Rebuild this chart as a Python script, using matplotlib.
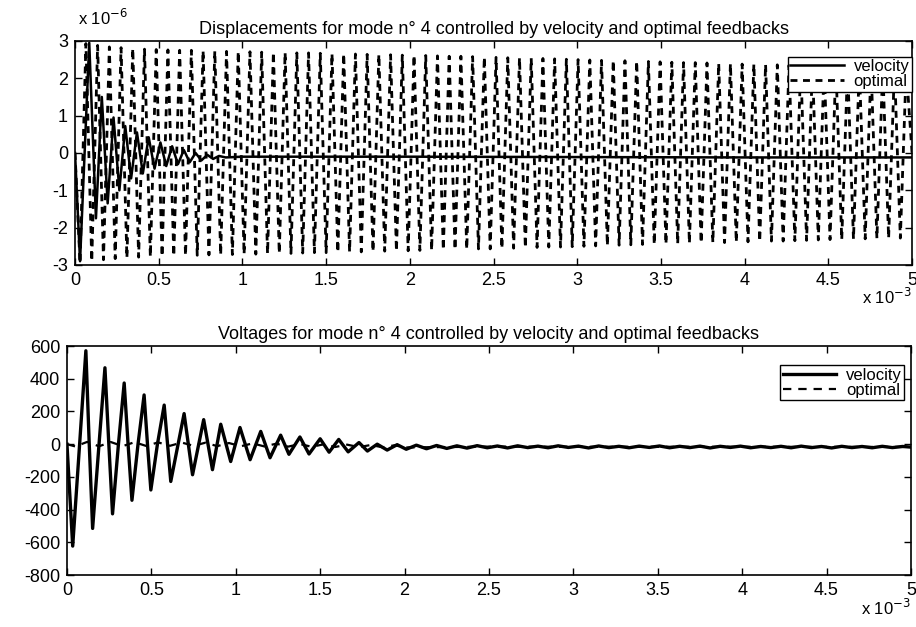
import matplotlib
matplotlib.use("Agg")
import matplotlib.pyplot as plt

plt.rcParams['font.family'] = ['Liberation Sans', 'DejaVu Sans']
plt.rcParams['lines.scale_dashes'] = False
plt.rcParams['axes.unicode_minus'] = False

# time axis in ms (shown as x 10^-3 s)
xticks = [0, 0.5, 1, 1.5, 2, 2.5, 3, 3.5, 4, 4.5, 5]
xtick_labels = ['0', '0.5', '1', '1.5', '2', '2.5', '3', '3.5', '4', '4.5', '5']

# displacement, optimal feedback (extrema, x 10^-6)
opt_t = [0.0,
         0.030, 0.065, 0.100, 0.135, 0.170, 0.205, 0.240, 0.275, 0.310, 0.345,
         0.380, 0.415, 0.450, 0.485, 0.520, 0.555, 0.590, 0.625, 0.660, 0.695,
         0.730, 0.765, 0.800, 0.835, 0.870, 0.905, 0.940, 0.975, 1.010, 1.045,
         1.080, 1.115, 1.150, 1.185, 1.220, 1.255, 1.290, 1.325, 1.360, 1.395,
         1.430, 1.465, 1.500, 1.535, 1.570, 1.605, 1.640, 1.675, 1.710, 1.745,
         1.780, 1.815, 1.850, 1.885, 1.920, 1.955, 1.990, 2.025, 2.060, 2.095,
         2.130, 2.165, 2.200, 2.235, 2.270, 2.305, 2.340, 2.375, 2.410, 2.445,
         2.480, 2.515, 2.550, 2.585, 2.620, 2.655, 2.690, 2.725, 2.760, 2.795,
         2.830, 2.865, 2.900, 2.935, 2.970, 3.005, 3.040, 3.075, 3.110, 3.145,
         3.180, 3.215, 3.250, 3.285, 3.320, 3.355, 3.390, 3.425, 3.460, 3.495,
         3.530, 3.565, 3.600, 3.635, 3.670, 3.705, 3.740, 3.775, 3.810, 3.845,
         3.880, 3.915, 3.950, 3.985, 4.020, 4.055, 4.090, 4.125, 4.160, 4.195,
         4.230, 4.265, 4.300, 4.335, 4.370, 4.405, 4.440, 4.475, 4.510, 4.545,
         4.580, 4.615, 4.650, 4.685, 4.720, 4.755, 4.790, 4.825, 4.860, 4.895,
         4.930, 4.965,
         5.000]
opt_disp = [0.0,
            -2.95, 2.93, -2.90, 2.88, -2.86, 2.84, -2.83, 2.82, -2.81, 2.80,
            -2.79, 2.78, -2.78, 2.77, -2.77, 2.76, -2.76, 2.75, -2.75, 2.75,
            -2.74, 2.74, -2.73, 2.73, -2.73, 2.72, -2.72, 2.72, -2.71, 2.71,
            -2.71, 2.70, -2.70, 2.70, -2.69, 2.69, -2.69, 2.68, -2.68, 2.68,
            -2.67, 2.67, -2.67, 2.66, -2.66, 2.66, -2.65, 2.65, -2.65, 2.64,
            -2.64, 2.64, -2.63, 2.63, -2.63, 2.62, -2.62, 2.62, -2.61, 2.61,
            -2.61, 2.60, -2.60, 2.59, -2.59, 2.59, -2.58, 2.58, -2.57, 2.57,
            -2.57, 2.56, -2.56, 2.55, -2.55, 2.55, -2.54, 2.54, -2.53, 2.53,
            -2.52, 2.52, -2.52, 2.51, -2.51, 2.50, -2.50, 2.49, -2.49, 2.48,
            -2.48, 2.48, -2.47, 2.47, -2.46, 2.46, -2.45, 2.45, -2.45, 2.44,
            -2.44, 2.43, -2.43, 2.42, -2.42, 2.42, -2.41, 2.41, -2.40, 2.40,
            -2.40, 2.39, -2.39, 2.38, -2.38, 2.38, -2.37, 2.37, -2.36, 2.36,
            -2.36, 2.35, -2.35, 2.34, -2.34, 2.34, -2.33, 2.33, -2.32, 2.32,
            -2.32, 2.31, -2.31, 2.30, -2.30, 2.30, -2.29, 2.29, -2.28, 2.28,
            -2.28, 2.27,
            0.0]

# displacement, velocity feedback (extrema, x 10^-6)
vel_disp_t = [0.0, 0.030, 0.085, 0.125, 0.160, 0.195, 0.230, 0.265, 0.300, 0.335,
              0.370, 0.405, 0.440, 0.475, 0.510, 0.545, 0.580, 0.615, 0.650, 0.685,
              0.720, 0.755, 0.790, 0.825, 0.860, 0.900, 1.0, 2.0, 3.0, 4.0, 5.0]
vel_disp = [0.0, -2.90, 2.95, -1.75, 1.50, -1.35, 0.95, -1.00, 0.72, -0.68,
            0.55, -0.55, 0.42, -0.42, 0.28, -0.35, 0.18, -0.30, 0.08, -0.25,
            0.00, -0.20, -0.05, -0.16, -0.08, -0.12, -0.10, -0.10, -0.11, -0.12, -0.12]

# voltage, velocity feedback (extrema and zero crossings, V)
vel_v_t = [0.0, 0.034, 0.075, 0.112, 0.132, 0.152, 0.190, 0.225, 0.248, 0.270,
           0.305, 0.339, 0.362, 0.385, 0.421, 0.457, 0.477, 0.497, 0.536, 0.576,
           0.615, 0.694, 0.744, 0.810, 0.862, 0.911, 0.970, 1.025, 1.085,
           1.148, 1.203, 1.266, 1.315, 1.380, 1.434, 1.500, 1.553, 1.610, 1.666,
           1.730, 1.780, 1.838, 1.897, 1.956, 2.010,
           2.07, 2.13, 2.19, 2.25, 2.31, 2.37, 2.43, 2.49, 2.55, 2.61,
           2.67, 2.73, 2.79, 2.85, 2.91, 2.97, 3.03, 3.09, 3.15, 3.21,
           3.27, 3.33, 3.39, 3.45, 3.51, 3.57, 3.63, 3.69, 3.75, 3.81,
           3.87, 3.93, 3.99, 4.05, 4.11, 4.17, 4.23, 4.29, 4.35, 4.41,
           4.47, 4.53, 4.59, 4.65, 4.71, 4.77, 4.83, 4.89, 4.95, 5.00]
vel_v = [0, -623, 0, 571, 0, -515, 0, 467, 0, -426,
         0, 374, 0, -343, 0, 301, 0, -280, 0, 239,
         -228, 187, -187, 150, -156, 122, -106, 102, -95,
         78, -83, 55, -62, 44, -60, 33, -49, 29, -47,
         10, -42, 0, -36, -3, -31,
         -6, -28, -8, -26, -10, -24, -9, -22, -11, -23,
         -10, -21, -12, -22, -10, -20, -12, -23, -11, -21,
         -13, -22, -12, -20, -11, -22, -13, -21, -12, -23,
         -13, -20, -12, -22, -14, -21, -13, -22, -12, -21,
         -14, -23, -13, -21, -14, -22, -13, -21, -14, -18]

# voltage, optimal feedback (extrema, V)
opt_v_t = [0.0, 0.05, 0.12, 0.19, 0.26, 0.33, 0.40, 0.47, 0.54, 0.61,
           0.68, 0.75, 0.82, 0.89, 0.96, 1.03, 1.10, 1.17, 1.24, 1.31,
           1.38, 1.45, 1.52, 1.59, 1.66, 1.73, 1.80, 1.87, 1.94, 2.01,
           2.5, 3.0, 4.0, 5.0]
opt_v = [0, -14, 14, -13, 13, -12, 12, -11, 11, -10,
         10, -10, 9, -12, 7, -13, 5, -14, 3, -15,
         1, -16, -1, -17, -3, -18, -5, -19, -7, -20,
         -15, -16, -16, -17]

fig = plt.figure(figsize=(9.16, 6.27), dpi=100)
ax1 = fig.add_axes([0.0819, 0.5774, 0.9138, 0.3573])
ax2 = fig.add_axes([0.0731, 0.0829, 0.9214, 0.3652])

leg_kw = dict(loc='upper right', fontsize=12, fancybox=False, edgecolor='black',
              framealpha=1, borderpad=0.15, labelspacing=0.0, handlelength=3.2,
              handletextpad=0.6, borderaxespad=0.0)

ax1.plot(vel_disp_t, vel_disp, color='black', linewidth=1.8, label='velocity')
ax1.plot(opt_t, opt_disp, color='black', linewidth=2.0, dashes=(5, 4),
         dash_capstyle='butt', label='optimal')
ax1.set_ylim(-3, 3)
ax1.set_yticks([-3, -2, -1, 0, 1, 2, 3])
ax1.set_title('Displacements for mode n° 4 controlled by velocity and optimal feedbacks',
              fontsize=13, pad=5)
ax1.text(0.003, 1.06, r'x 10$^{-6}$', transform=ax1.transAxes, fontsize=12,
         ha='left', va='bottom')
ax1.legend(bbox_to_anchor=(1.0, 0.93), **leg_kw)

ax2.plot(vel_v_t, vel_v, color='black', linewidth=2.4, solid_joinstyle='round',
         label='velocity')
ax2.plot(opt_v_t, opt_v, color='black', linewidth=1.6, dashes=(6, 5), label='optimal')
ax2.set_ylim(-800, 600)
ax2.set_yticks([-800, -600, -400, -200, 0, 200, 400, 600])
ax2.set_title('Voltages for mode n° 4 controlled by velocity and optimal feedbacks',
              fontsize=13, pad=5)
ax2.legend(bbox_to_anchor=(0.992, 0.917), **leg_kw)

for ax in (ax1, ax2):
    ax.set_xlim(0, 5)
    ax.set_xticks(xticks)
    ax.set_xticklabels(xtick_labels)
    ax.tick_params(direction='in', length=5, width=1, top=True, right=True,
                   labelsize=13, pad=5)
    for s in ax.spines.values():
        s.set_linewidth(1.2)
    ax.get_legend().get_frame().set_linewidth(1.0)
    ax.text(1.0, -0.1, r'x 10$^{-3}$', transform=ax.transAxes, fontsize=12,
            ha='right', va='top')

fig.savefig('out.png', dpi=100)
